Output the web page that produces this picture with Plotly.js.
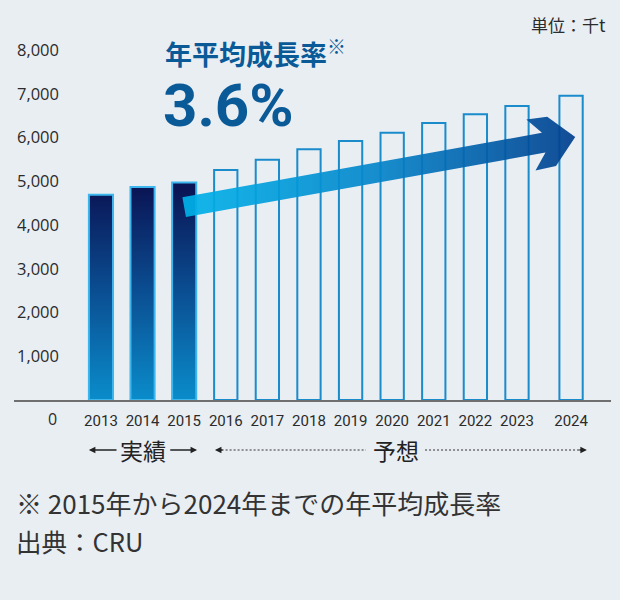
<!DOCTYPE html>
<html>
<head>
<meta charset="utf-8">
<script src="https://cdn.plot.ly/plotly-3.0.1.min.js"></script>
<style>html,body{margin:0;padding:0;background:#e9eef3}</style>
</head>
<body>
<div id="chart" style="width:620px;height:600px"></div>
<script>
// 実績 (actual) and 予想 (forecast), 千t
const actualYears = [2013, 2014, 2015];
const actualValues = [4690, 4870, 4970];
const forecastYears = [2016, 2017, 2018, 2019, 2020, 2021, 2022, 2023, 2024];
const forecastValues = [5260, 5490, 5730, 5920, 6110, 6330, 6530, 6720, 6955];
const yTicks = [1000, 2000, 3000, 4000, 5000, 6000, 7000, 8000];

// growth arrow, tail and head in data units
const arrowTail = {year: 2015, value: 4410};
const arrowHead = {year: 2024, value: 6010};

// 2024 is set a bit further right than the others
const xOf = yr => (yr - 2013) + (yr === 2024 ? 0.3 : 0);

const W = 620, H = 600;
const M = {l: 14, r: 9, t: 40, b: 200};
const plotW = W - M.l - M.r, plotH = H - M.t - M.b;
const xRange = [-2.09, 12.26];
const yRange = [0, 8228.6];
const pxX = plotW / (xRange[1] - xRange[0]);
const pxY = plotH / (yRange[1] - yRange[0]);

const allYears = actualYears.concat(forecastYears);
const textCol = '#2b2b2b';

// actual bars as gradient polygons
const bx = [], by = [];
const hw = 0.29;
actualYears.forEach((yr, i) => {
  const x = xOf(yr), v = actualValues[i];
  bx.push(x - hw, x - hw, x + hw, x + hw, x - hw, null);
  by.push(0, v, v, 0, 0, null);
});

// arrow polygon, built in pixels then mapped back to data
const tipX = xOf(arrowHead.year) + 0.1, tipV = arrowHead.value;
const tailX = xOf(arrowTail.year), tailV = arrowTail.value;
const dxp = (tipX - tailX) * pxX, dyp = -(tipV - tailV) * pxY;
const len = Math.hypot(dxp, dyp);
const ux = dxp / len, uy = dyp / len;
const nx = uy, ny = -ux;
const local = [[0, 0], [-24, 25], [-45, 26], [-32, 10], [-len, 10], [-len, -10],
  [-32, -10], [-45, -26], [-24, -25], [0, 0]];
const ax = [], ay = [];
local.forEach(([s, t]) => {
  const sx = s * ux + t * nx, sy = s * uy + t * ny;
  ax.push(tipX + sx / pxX);
  ay.push(tipV - sy / pxY);
});

const traces = [
  {
    x: forecastYears.map(xOf),
    y: forecastValues,
    type: 'bar',
    width: 0.56,
    marker: {color: 'rgba(0,0,0,0)', line: {color: '#1a8bcb', width: 2}},
    hoverinfo: 'skip'
  },
  {
    x: bx, y: by,
    type: 'scatter', mode: 'lines',
    fill: 'toself',
    fillgradient: {type: 'vertical', start: 0, stop: 4800,
      colorscale: [[0, '#0a8cca'], [0.55, '#0a4a8e'], [1, '#0a1656']]},
    line: {color: '#3cb6ec', width: 2},
    hoverinfo: 'skip'
  },
  {
    x: ax, y: ay,
    type: 'scatter', mode: 'lines',
    fill: 'toself',
    fillgradient: {type: 'horizontal', start: tailX, stop: tipX,
      colorscale: [[0, '#00b2ea'], [0.5, '#0584c9'], [1, '#003f8e']]},
    line: {width: 0},
    opacity: 0.92,
    hoverinfo: 'skip'
  }
];

const yB = (450 - 400) / -plotH;  // bracket row
const cjk = '"Noto Sans CJK JP", sans-serif';
const arrowStyle = {text: '', showarrow: true, arrowhead: 2, arrowsize: 1, arrowwidth: 1.3,
  arrowcolor: '#222', standoff: 0, xref: 'x', yref: 'paper'};

const annotations = [
  {xref: 'paper', yref: 'paper', x: 0.995, y: 1 + 15 / plotH, xanchor: 'right', yanchor: 'middle',
    text: '単位：千t', showarrow: false, font: {family: cjk, size: 17, color: textCol}},
  {xref: 'paper', yref: 'paper', x: (163 - M.l) / plotW, y: (400 - 53) / plotH, xanchor: 'left', yanchor: 'middle',
    text: '年平均成長率<sup>※</sup>', showarrow: false,
    font: {family: cjk, size: 27, weight: 'bold', color: '#0b5a98'}},
  {xref: 'paper', yref: 'paper', x: (161 - M.l) / plotW, y: (400 - 105) / plotH, xanchor: 'left', yanchor: 'middle',
    text: '3.6%', showarrow: false,
    font: {family: 'Roboto, sans-serif', size: 60, weight: 'bold', color: '#0b5a98'}},
  {xref: 'paper', yref: 'paper', x: (52 - M.l) / plotW, y: (400 - 419) / plotH, xanchor: 'center', yanchor: 'middle',
    text: '0', showarrow: false,
    font: {family: '"Open Sans", sans-serif', size: 16, color: textCol}},
  // 実績 bracket
  Object.assign({x: -0.29, y: yB, ax: 0.41, ay: 0, axref: 'x', ayref: 'pixel'}, arrowStyle),
  {x: xOf(2014), y: yB, xref: 'x', yref: 'paper', yanchor: 'middle', text: '実績', showarrow: false,
    font: {family: cjk, size: 23, color: '#222'}},
  Object.assign({x: 2.31, y: yB, ax: 1.63, ay: 0, axref: 'x', ayref: 'pixel'}, arrowStyle),
  // 予想 bracket
  Object.assign({x: 2.74, y: yB, ax: 9, ay: 0}, arrowStyle),
  {x: 7.09, y: yB, xref: 'x', yref: 'paper', yanchor: 'middle', text: '予想', showarrow: false,
    font: {family: cjk, size: 23, color: '#222'}},
  Object.assign({x: 11.68, y: yB, ax: -9, ay: 0}, arrowStyle),
  // footnotes
  {xref: 'paper', yref: 'paper', x: 0, y: (400 - 503) / plotH, xanchor: 'left', yanchor: 'middle',
    text: '※ 2015年から2024年までの年平均成長率', showarrow: false,
    font: {family: cjk, size: 26, color: '#333'}},
  {xref: 'paper', yref: 'paper', x: 0, y: (400 - 540) / plotH, xanchor: 'left', yanchor: 'middle',
    text: '出典：CRU', showarrow: false,
    font: {family: cjk, size: 25.5, color: '#333'}}
];

const shapes = [
  {type: 'line', xref: 'x', yref: 'paper', x0: 2.9, x1: 6.37, y0: yB, y1: yB,
    line: {color: '#333', width: 1, dash: '2px,2px'}},
  {type: 'line', xref: 'x', yref: 'paper', x0: 7.79, x1: 11.55, y0: yB, y1: yB,
    line: {color: '#333', width: 1, dash: '2px,2px'}}
];

Plotly.newPlot('chart', traces, {
  width: W, height: H,
  margin: M,
  showlegend: false,
  paper_bgcolor: '#e9eef3',
  plot_bgcolor: '#e9eef3',
  xaxis: {
    range: xRange,
    tickvals: allYears.map(xOf),
    ticktext: allYears.map(String),
    tickfont: {family: 'Roboto, sans-serif', size: 15, color: textCol},
    ticklabelstandoff: 6,
    showline: true, linecolor: '#6f6f6f', linewidth: 2,
    showgrid: false, zeroline: false, ticks: '',
    fixedrange: true
  },
  yaxis: {
    range: yRange,
    anchor: 'free', position: (59 - M.l) / plotW,
    tickvals: yTicks,
    tickformat: ',d',
    tickfont: {family: '"Open Sans", sans-serif', size: 16.5, color: textCol},
    showline: false, showgrid: false, zeroline: false, ticks: '',
    fixedrange: true
  },
  annotations: annotations,
  shapes: shapes
}, {staticPlot: true});
</script>
</body>
</html>
